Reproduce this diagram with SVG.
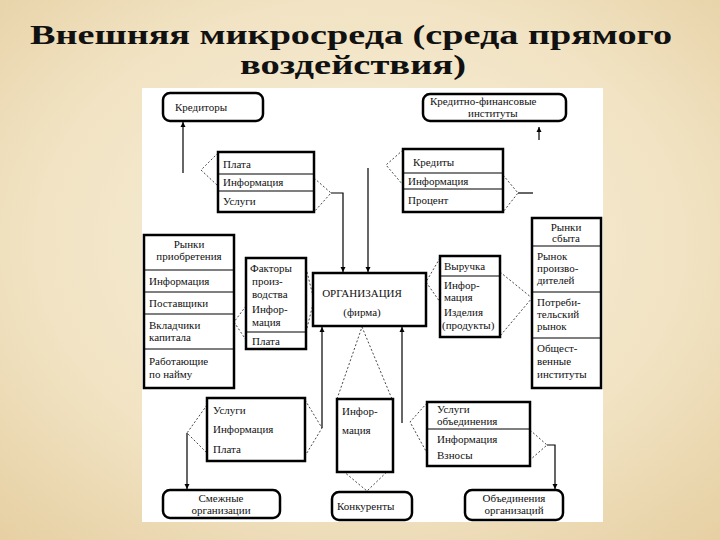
<svg xmlns="http://www.w3.org/2000/svg" width="720" height="540" viewBox="0 0 720 540">
<defs>
<radialGradient id="bg" cx="0.5" cy="0.45" r="0.75">
<stop offset="0" stop-color="#f8f0dc"/>
<stop offset="0.6" stop-color="#f1e3c3"/>
<stop offset="1" stop-color="#e6cfa2"/>
</radialGradient>
<marker id="ah" viewBox="0 0 10 10" refX="10" refY="5" markerWidth="5" markerHeight="9" markerUnits="userSpaceOnUse" orient="auto">
<path d="M0,0 L10,5 L0,10 z" fill="#000"/>
</marker>
<style>
.box{fill:#fff;stroke:#000;stroke-width:2.5}
.rbox{fill:#fff;stroke:#000;stroke-width:2.5}
.div{stroke:#000;stroke-width:1.2}
.t{font-size:11px;fill:#111}
.c{text-anchor:middle}
.dash{fill:none;stroke:#333;stroke-width:0.9;stroke-dasharray:2,2}
.ln{fill:none;stroke:#000;stroke-width:1.2}
.arr{fill:none;stroke:#000;stroke-width:1.2;marker-end:url(#ah)}
.title{font-weight:bold;font-size:27px;fill:#111}
</style>
</defs>
<rect x="0" y="0" width="720" height="540" fill="url(#bg)"/>
<rect x="142" y="88" width="461" height="434" fill="#fff"/>
<g font-family="'Liberation Serif', 'Times New Roman', Tinos, 'DejaVu Serif', serif">
<g id="title">
<text class="title" x="30" y="44" textLength="642" lengthAdjust="spacingAndGlyphs">Внешняя микросреда (среда прямого</text>
<text class="title" x="240" y="74" textLength="226" lengthAdjust="spacingAndGlyphs">воздействия)</text>
</g>
<g id="connectors">
<path class="arr" d="M183,173 L183,122"/>
<path class="dash" d="M218,153 L201,170 L218,186"/>
<path class="dash" d="M314,178 L331,193 L314,212"/>
<path class="arr" d="M331,193 L343,193 L343,272"/>
<path class="arr" d="M368,168 L368,272"/>
<path class="dash" d="M403,150 L386,165 L403,185"/>
<path class="dash" d="M503,175 L518,193 L503,212"/>
<path class="ln" d="M518,193 L533,193"/>
<path class="arr" d="M539,140 L539,127"/>
<path class="dash" d="M246,306 L234,322 L246,340"/>
<path class="dash" d="M306,268 L314,300 L306,332"/>
<path class="dash" d="M440,258 L426,282 L440,302"/>
<path class="dash" d="M500,272 L532,298 L500,336"/>
<path class="arr" d="M322,428 L322,327"/>
<path class="arr" d="M402,423 L402,327"/>
<path class="dash" d="M337,399 L362,327 L392,399"/>
<path class="dash" d="M337,466 L367,491 L393,466"/>
<path class="dash" d="M207,405 L187,433 L207,453"/>
<path class="dash" d="M305,400 L322,428 L305,456"/>
<path class="arr" d="M187,433 L187,489"/>
<path class="dash" d="M427,403 L410,422 L427,453"/>
<path class="dash" d="M530,430 L547,445 L530,460"/>
<path class="arr" d="M547,445 L555,445 L555,489"/>
</g>
<g id="kreditory">
<rect class="rbox" x="163" y="93" width="100" height="28" rx="7"/>
<text class="t" x="175" y="111">Кредиторы</text>
</g>
<g id="kfi">
<rect class="rbox" x="423" y="94" width="143" height="27" rx="7"/>
<text class="t" x="430" y="105">Кредитно-финансовые</text>
<text class="t" x="468" y="117">институты</text>
</g>
<g id="plata1">
<rect class="box" x="218" y="152" width="96" height="60"/>
<line class="div" x1="218" y1="174" x2="314" y2="174"/>
<line class="div" x1="218" y1="191" x2="314" y2="191"/>
<text class="t" x="223" y="168">Плата</text>
<text class="t" x="223" y="186">Информация</text>
<text class="t" x="223" y="205">Услуги</text>
</g>
<g id="kredity">
<rect class="box" x="403" y="149" width="100" height="63"/>
<line class="div" x1="403" y1="173" x2="503" y2="173"/>
<line class="div" x1="403" y1="189" x2="503" y2="189"/>
<text class="t" x="413" y="166">Кредиты</text>
<text class="t" x="408" y="185">Информация</text>
<text class="t" x="408" y="204">Процент</text>
</g>
<g id="rynki-pr">
<rect class="box" x="144" y="235" width="90" height="153"/>
<text class="t c" x="189" y="248">Рынки</text>
<text class="t c" x="189" y="260">приобретения</text>
<line class="div" x1="144" y1="270" x2="234" y2="270"/>
<text class="t" x="149" y="285">Информация</text>
<line class="div" x1="144" y1="292" x2="234" y2="292"/>
<text class="t" x="149" y="307">Поставщики</text>
<line class="div" x1="144" y1="314" x2="234" y2="314"/>
<text class="t" x="149" y="329">Вкладчики</text>
<text class="t" x="149" y="341">капитала</text>
<line class="div" x1="144" y1="349" x2="234" y2="349"/>
<text class="t" x="149" y="365">Работающие</text>
<text class="t" x="149" y="378">по найму</text>
</g>
<g id="faktory">
<rect class="box" x="246" y="258" width="60" height="91"/>
<text class="t" x="250" y="272">Факторы</text>
<text class="t" x="252" y="285">произ-</text>
<text class="t" x="252" y="298">водства</text>
<text class="t" x="252" y="313">Инфор-</text>
<text class="t" x="252" y="326">мация</text>
<line class="div" x1="246" y1="332" x2="306" y2="332"/>
<text class="t" x="252" y="345">Плата</text>
</g>
<g id="org">
<rect class="box" x="313" y="273" width="113" height="53" stroke-width="3"/>
<text class="t c" x="362" y="297">ОРГАНИЗАЦИЯ</text>
<text class="t c" x="362" y="316">(фирма)</text>
</g>
<g id="vyruchka">
<rect class="box" x="440" y="256" width="60" height="81"/>
<text class="t" x="444" y="270">Выручка</text>
<line class="div" x1="440" y1="276" x2="500" y2="276"/>
<text class="t" x="444" y="289">Инфор-</text>
<text class="t" x="444" y="301">мация</text>
<text class="t" x="444" y="316">Изделия</text>
<text class="t" x="442" y="329">(продукты)</text>
</g>
<g id="rynki-sb">
<rect class="box" x="532" y="218" width="69" height="170"/>
<text class="t c" x="566" y="231">Рынки</text>
<text class="t c" x="566" y="242">сбыта</text>
<line class="div" x1="532" y1="246" x2="601" y2="246"/>
<text class="t" x="537" y="260">Рынок</text>
<text class="t" x="537" y="272">произво-</text>
<text class="t" x="537" y="284">дителей</text>
<line class="div" x1="532" y1="292" x2="601" y2="292"/>
<text class="t" x="537" y="306">Потреби-</text>
<text class="t" x="537" y="318">тельский</text>
<text class="t" x="537" y="330">рынок</text>
<line class="div" x1="532" y1="338" x2="601" y2="338"/>
<text class="t" x="537" y="352">Общест-</text>
<text class="t" x="537" y="365">венные</text>
<text class="t" x="537" y="378">институты</text>
</g>
<g id="plata2">
<rect class="box" x="207" y="398" width="98" height="63"/>
<text class="t" x="213" y="414">Услуги</text>
<text class="t" x="213" y="433">Информация</text>
<text class="t" x="213" y="453">Плата</text>
</g>
<g id="info-mid">
<rect class="box" x="337" y="399" width="56" height="73"/>
<text class="t" x="342" y="415">Инфор-</text>
<text class="t" x="342" y="434">мация</text>
</g>
<g id="uslugi-ob">
<rect class="box" x="427" y="402" width="103" height="64"/>
<text class="t" x="437" y="413">Услуги</text>
<text class="t" x="437" y="425">объединения</text>
<line class="div" x1="427" y1="429" x2="530" y2="429"/>
<text class="t" x="437" y="443">Информация</text>
<text class="t" x="437" y="459">Взносы</text>
</g>
<g id="smezhnye">
<rect class="rbox" x="163" y="490" width="117" height="28" rx="7"/>
<text class="t c" x="221" y="502">Смежные</text>
<text class="t c" x="221" y="514">организации</text>
</g>
<g id="konkurenty">
<rect class="rbox" x="332" y="492" width="80" height="28" rx="7"/>
<text class="t" x="337" y="510">Конкуренты</text>
</g>
<g id="obied">
<rect class="rbox" x="465" y="490" width="98" height="30" rx="7"/>
<text class="t c" x="514" y="502">Объединения</text>
<text class="t c" x="514" y="514">организаций</text>
</g>
</g>
</svg>
